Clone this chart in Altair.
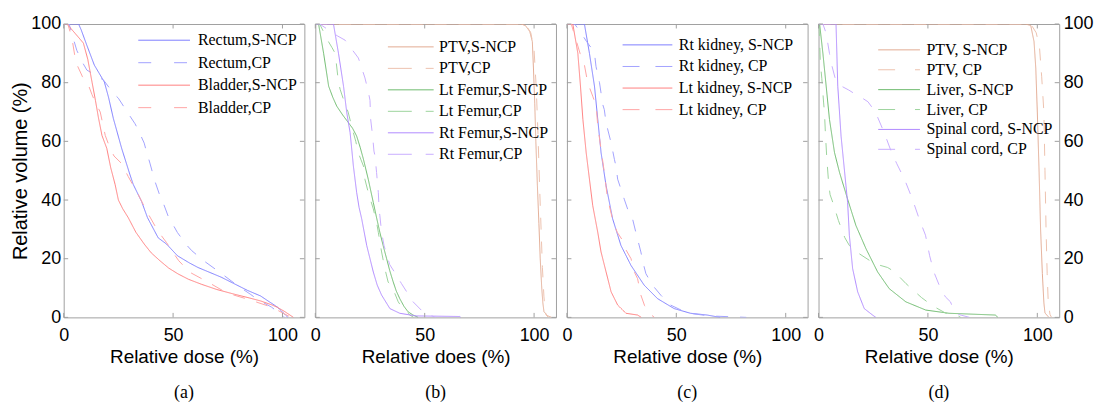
import altair as alt
import pandas as pd

# ---------------- data ----------------
# (a) Rectum / Bladder
a_rectum_sncp_dose = [0, 6.8, 8, 10.6, 14, 18.6, 20.5, 22.7, 26.5, 30.3, 31.8, 35.6, 38.3, 43.2, 47, 52, 57.6, 61.4, 72, 84, 90, 93, 97.7, 101.5, 102.5]
a_rectum_sncp_vol = [100, 100, 98, 92.7, 86, 80.2, 75, 67.8, 57.6, 48.6, 45.3, 39.5, 34, 27.1, 25, 21, 18.5, 17, 13.7, 9.2, 7.3, 5.8, 3.5, 0.7, 0]
a_rectum_cp_dose = [0, 2.5, 4, 6, 8.5, 10.6, 18.2, 22.7, 25, 28.8, 32.6, 34, 36.8, 37.4, 39.4, 41.7, 44, 45.5, 47.7, 52, 56.5, 58.6, 64, 72, 79.5, 85.5, 88.6, 95, 101]
a_rectum_cp_vol = [100, 100, 96, 91, 87, 84.3, 80.9, 76.4, 74.7, 70.3, 66, 64, 59.4, 57.7, 52.6, 46.4, 41.4, 39, 34.6, 28.9, 24.4, 22.7, 19.3, 15, 10.8, 7.8, 6.1, 3.5, 0]
a_bladder_sncp_dose = [0, 1.5, 5, 9, 11, 13, 14.5, 15.9, 17.5, 19.7, 21.5, 23.5, 25, 27, 29.5, 33, 36.8, 40, 44, 48, 52.3, 57, 62.9, 70, 78, 85, 90, 95, 97.7, 101, 103, 105]
a_bladder_sncp_vol = [100, 100, 97, 93.5, 88, 80, 74, 68, 62, 57.6, 51, 45.3, 40, 37, 34, 29, 25, 22, 19.3, 16.8, 14.8, 13, 11.3, 9.5, 7.9, 6.6, 5.6, 4.3, 3.4, 2, 1, 0]
a_bladder_cp_dose = [0, 1.9, 3.8, 5.2, 5.9, 8.6, 10.9, 12.9, 14.4, 16.7, 19, 21, 23, 26.4, 29.5, 34, 37.7, 43, 47, 51, 52.6, 57.6, 66, 73, 76, 85, 95, 104]
a_bladder_cp_vol = [100, 100, 95, 88.6, 86.4, 82, 80, 76, 73.4, 70, 62, 58, 55, 52.5, 48, 42, 36.5, 29.5, 25.5, 21, 19.3, 15.4, 12, 9, 8, 6, 3.5, 0]

# (b) PTV / femurs
b_ptv_sncp_dose = [0, 94, 96, 98, 99.2, 99.7, 100.3, 100.8, 101.5, 102.2, 102.8, 103.5, 104, 104.5, 106, 108]
b_ptv_sncp_vol = [100, 100, 99.5, 97.5, 94, 85, 73, 60, 45, 32, 20, 10, 5, 2, 0.6, 0]
b_ptv_cp_dose = [0, 96, 98.5, 100, 101, 101.8, 102.5, 103.2, 103.8, 104.5, 105, 105.5, 106.5]
b_ptv_cp_vol = [100, 100, 97, 91, 78, 62, 45, 30, 17, 7, 2.5, 0.8, 0]
b_ltf_sncp_dose = [0, 1.5, 3.8, 6.1, 8, 9.8, 12.5, 15.2, 17, 18.9, 20.5, 22, 24.2, 26.5, 28, 29.5, 31, 32.6, 34, 35.6, 37, 38.6, 40.5, 42.4, 44.7, 47]
b_ltf_sncp_vol = [100, 100, 90, 78.8, 75, 72, 69, 66.3, 64.5, 61.8, 58, 53.9, 47.1, 39.2, 34, 29, 24.5, 20, 16, 12.1, 9, 6.4, 3.8, 1.9, 0.8, 0]
b_ltf_cp_dose = [0, 2, 4, 6, 7.6, 9.1, 10.6, 11.4, 13, 15, 17, 18.5, 19.7, 22, 22.7, 24.2, 26.5, 28, 28.8, 30.3, 31.8, 33.3, 34.8, 37.9, 40, 41.7, 43.2, 45]
b_ltf_cp_vol = [100, 100, 97, 94, 92, 90, 80, 77.6, 74, 70, 64, 60, 56, 51.6, 47, 42.6, 37, 32.4, 29, 22.3, 16.6, 12, 11, 5.3, 3, 1.9, 0.8, 0]
b_rtf_sncp_dose = [0, 8.3, 10.6, 12.9, 14.4, 15.9, 16.7, 17.4, 18.9, 20, 21.2, 23.5, 25, 26.5, 28.3, 30.3, 34.1, 38.6, 46, 66, 66.5]
b_rtf_sncp_vol = [100, 100, 90, 78.8, 69.7, 63, 57, 51.6, 42.6, 37.5, 33.6, 24.5, 20, 15.5, 11, 7.6, 3, 1.4, 0.5, 0.3, 0]
b_rtf_cp_dose = [0, 2, 4, 7, 10, 13.6, 15.2, 19.7, 22.7, 24.2, 25, 25.3, 26.2, 26.8, 27.3, 28, 28.8, 29.2, 29.5, 30.3, 31.4, 34, 37, 39.4, 44.7, 49.2, 52.3, 55]
b_rtf_cp_vol = [100, 100, 99, 97.5, 96, 94.5, 92.9, 88.4, 81.6, 77, 74, 67.5, 61.8, 56.7, 55, 49.4, 42.6, 36.4, 34.7, 29, 24.5, 18, 14.5, 11.5, 5.3, 1.9, 0.8, 0]

# (c) kidneys
c_rtk_sncp_dose = [0, 8, 10.3, 12.6, 14.1, 15.6, 17.9, 20.9, 24.7, 29.3, 35.3, 41.4, 49, 56.5, 64.1, 70]
c_rtk_sncp_vol = [100, 100, 90, 78.8, 67.5, 56.2, 44.9, 33.6, 24.5, 17.7, 11, 6.4, 3, 1.4, 0.8, 0]
c_rtk_cp_dose = [0, 3.5, 6, 9, 11, 12.6, 13.3, 14.9, 16.4, 17.1, 17.9, 20.2, 21.7, 22.4, 23.2, 26.2, 28.5, 30, 31.5, 33.8, 35.3, 36.1, 39.1, 43, 47.4, 55, 65, 82]
c_rtk_cp_vol = [100, 100, 97.5, 94, 92, 90, 85.5, 80, 72.5, 70.8, 66.3, 59.5, 53.9, 51.6, 47.1, 40.3, 35.3, 33.6, 29, 22.3, 17.2, 14.9, 11, 7.5, 4.2, 1.5, 0.5, 0]
c_ltk_sncp_dose = [0, 2.7, 5, 6.2, 7.3, 8.8, 10.3, 11.8, 14.1, 15.6, 17.9, 20.2, 23.2, 27, 32.3, 34]
c_ltk_sncp_vol = [100, 100, 90, 78.8, 67.5, 56.2, 47.1, 38.1, 29, 22.3, 15.5, 8.7, 4.2, 1.4, 0.8, 0]
c_ltk_cp_dose = [0, 2, 4, 6, 8, 9.5, 11.8, 13.4, 14.1, 15.6, 17, 18.6, 19.4, 21, 23, 25.5, 27, 29.3, 30.8, 32.3, 33.8, 35.5, 37.6, 40]
c_ltk_cp_vol = [100, 100, 95, 90, 86, 80, 75.4, 72, 65.2, 57.3, 50, 40.3, 38, 33, 29, 26.2, 23, 20, 15.5, 13.2, 7.6, 4, 1.4, 0]

# (d) PTV / liver / spinal cord
d_ptv_sncp_dose = [0, 94.5, 97, 98.5, 99.3, 100, 100.8, 101.5, 102.3, 103, 103.5, 105.3]
d_ptv_sncp_vol = [100, 100, 99.5, 94, 85, 70, 50, 30, 15, 5, 1.5, 0]
d_ptv_cp_dose = [0, 97, 99.5, 101, 102, 103, 103.5, 104, 104.5, 105, 105.8, 106.5]
d_ptv_cp_vol = [100, 100, 97, 92, 82, 70, 50, 30, 15, 5, 1, 0]
d_liver_sncp_dose = [0, 0.5, 2, 3.5, 5, 7.3, 9.6, 13.3, 17.1, 21.7, 27, 32.3, 39.9, 49, 59.6, 80.8, 82]
d_liver_sncp_vol = [100, 100, 90, 78.8, 67.5, 56.2, 49.4, 40.3, 31.3, 23.4, 15.5, 9.8, 5.3, 2.5, 1.4, 0.8, 0]
d_liver_cp_dose = [0, 0.5, 0.8, 1.5, 2.3, 2.7, 3.2, 3.8, 4.7, 5.3, 6.8, 9.1, 12, 14.1, 18, 25.6, 31.6, 34.8, 40, 47, 52, 58, 62.6, 65]
d_liver_cp_vol = [100, 95, 87, 81.5, 73.4, 70, 62, 54, 45, 41.8, 38.6, 33, 27.2, 24.5, 22, 18.3, 17, 15.5, 11.5, 6.8, 4, 1.5, 1, 0]
d_cord_sncp_dose = [0, 8, 8.8, 10.3, 11.8, 13.3, 14.1, 15.6, 17.9, 20.9, 24.7, 26.2]
d_cord_sncp_vol = [100, 100, 78.8, 61.8, 50.5, 39.2, 27.9, 16.6, 8.7, 3, 0.8, 0]
d_cord_cp_dose = [0, 2, 3.5, 5, 5.8, 7.6, 10, 13.8, 17, 20.3, 22.6, 26, 30, 33, 35.7, 39.4, 42.9, 43.7, 46, 48.9, 50.8, 52.7, 55.8, 58, 60.3, 61.8, 64, 69]
d_cord_cp_vol = [100, 100, 96.8, 90, 86.7, 81.5, 79, 77.5, 76, 74.6, 73.5, 70, 63, 57, 52.5, 46.9, 40.3, 38.6, 33.6, 28, 21, 15.5, 9.8, 7, 5.3, 2.5, 1, 0]

x_ticks = [0, 50, 100]
y_ticks = [0, 20, 40, 60, 80, 100]

# ---------------- styles ----------------
# (solid colour, dashed colour)
BLUE = ("#7e7eff", "#a2a2ff")
RED = ("#ff8080", "#ffa4a4")
ORANGE = ("#e2aa92", "#edc2ae")
GREEN = ("#6eba6e", "#9cd49c")
PURPLE = ("#b08aff", "#c9adff")
FRAME = "#a0a0a0"
W, H = 242, 295
SANS, SERIF = "Liberation Sans", "Liberation Serif"

panels = [
    dict(sub="(a)", xtitle="Relative dose (%)", yorient="left",
         series=[("Rectum,S-NCP", a_rectum_sncp_dose, a_rectum_sncp_vol, BLUE, "solid"),
                 ("Rectum,CP", a_rectum_cp_dose, a_rectum_cp_vol, BLUE, "dashed"),
                 ("Bladder,S-NCP", a_bladder_sncp_dose, a_bladder_sncp_vol, RED, "solid"),
                 ("Bladder,CP", a_bladder_cp_dose, a_bladder_cp_vol, RED, "dashed")],
         leg=dict(y0=16.3, dy=22.6, x1=75, x2=127, xt=135, dash=[13, 23])),
    dict(sub="(b)", xtitle="Relative does (%)", yorient=None,
         series=[("PTV,S-NCP", b_ptv_sncp_dose, b_ptv_sncp_vol, ORANGE, "solid"),
                 ("PTV,CP", b_ptv_cp_dose, b_ptv_cp_vol, ORANGE, "dashed"),
                 ("Lt Femur,S-NCP", b_ltf_sncp_dose, b_ltf_sncp_vol, GREEN, "solid"),
                 ("Lt Femur,CP", b_ltf_cp_dose, b_ltf_cp_vol, GREEN, "dashed"),
                 ("Rt Femur,S-NCP", b_rtf_sncp_dose, b_rtf_sncp_vol, PURPLE, "solid"),
                 ("Rt Femur,CP", b_rtf_cp_dose, b_rtf_cp_vol, PURPLE, "dashed")],
         leg=dict(y0=23, dy=21.6, x1=73, x2=119, xt=124.5, dash=[24, 14])),
    dict(sub="(c)", xtitle="Relative dose (%)", yorient=None,
         series=[("Rt kidney, S-NCP", c_rtk_sncp_dose, c_rtk_sncp_vol, BLUE, "solid"),
                 ("Rt kidney, CP", c_rtk_cp_dose, c_rtk_cp_vol, BLUE, "dashed"),
                 ("Lt kidney, S-NCP", c_ltk_sncp_dose, c_ltk_sncp_vol, RED, "solid"),
                 ("Lt kidney, CP", c_ltk_cp_dose, c_ltk_cp_vol, RED, "dashed")],
         leg=dict(y0=21, dy=21.7, x1=56, x2=106, xt=112.5, dash=[17, 16])),
    dict(sub="(d)", xtitle="Relative dose (%)", yorient="right",
         series=[("PTV, S-NCP", d_ptv_sncp_dose, d_ptv_sncp_vol, ORANGE, "solid"),
                 ("PTV, CP", d_ptv_cp_dose, d_ptv_cp_vol, ORANGE, "dashed"),
                 ("Liver, S-NCP", d_liver_sncp_dose, d_liver_sncp_vol, GREEN, "solid"),
                 ("Liver, CP", d_liver_cp_dose, d_liver_cp_vol, GREEN, "dashed"),
                 ("Spinal cord, S-NCP", d_cord_sncp_dose, d_cord_sncp_vol, PURPLE, "solid"),
                 ("Spinal cord, CP", d_cord_cp_dose, d_cord_cp_vol, PURPLE, "dashed")],
         leg=dict(y0=26, dy=20, x1=60, x2=102, xt=108.5, dash=[17, 20])),
]

xs = alt.Scale(domain=[0, 110], nice=False, zero=False)
ys = alt.Scale(domain=[0, 100], nice=False)
dash_scale = alt.Scale(domain=["solid", "dashed"], range=[[1, 0], [12, 12]])


def make_panel(p):
    xaxis = alt.Axis(values=x_ticks, title=p["xtitle"], grid=False, ticks=False, domain=False,
                     labelFlush=False, labelOverlap=False, labelFont=SANS, labelFontSize=18,
                     labelColor="black", labelPadding=9, titleFont=SANS, titleFontSize=19,
                     titleFontWeight="normal", titleColor="black", titlePadding=3, format="d")
    if p["yorient"] == "left":
        yaxis = alt.Axis(values=y_ticks, orient="left", title="Relative volume (%)", grid=False,
                         ticks=False, domain=False, labelFont=SANS, labelFontSize=18,
                         labelColor="black", labelPadding=3, titleFont=SANS, titleFontSize=20,
                         titleFontWeight="normal", titleColor="black", titlePadding=0, format="d")
    elif p["yorient"] == "right":
        yaxis = alt.Axis(values=y_ticks, orient="right", title=None, grid=False, ticks=False,
                         domain=False, labelFont=SANS, labelFontSize=18, labelColor="black",
                         labelPadding=4, format="d")
    else:
        yaxis = None

    rows = []
    for label, dose, vol, cols, kind in p["series"]:
        col = cols[0] if kind == "solid" else cols[1]
        for i, (d, v) in enumerate(zip(dose, vol)):
            rows.append(dict(series=label, kind=kind, col=col, idx=i, dose=d, vol=v))
    df = pd.DataFrame(rows)

    lines = alt.Chart(df).mark_line(strokeWidth=1.0, clip=True).encode(
        x=alt.X("dose:Q", scale=xs, axis=xaxis),
        y=alt.Y("vol:Q", scale=ys, axis=yaxis),
        color=alt.Color("col:N", scale=None, legend=None),
        strokeDash=alt.StrokeDash("kind:N", scale=dash_scale, legend=None),
        detail="series:N",
        order=alt.Order("idx:Q"),
    )

    xt = pd.DataFrame({"t": x_ticks})
    yt = pd.DataFrame({"t": y_ticks})
    TL = 4.5
    tb = alt.Chart(xt).mark_rule(color=FRAME).encode(
        x=alt.X("t:Q", scale=xs, axis=xaxis), y=alt.value(H), y2=alt.value(H - TL))
    tt = alt.Chart(xt).mark_rule(color=FRAME).encode(
        x=alt.X("t:Q", scale=xs, axis=xaxis), y=alt.value(0), y2=alt.value(TL))
    tl = alt.Chart(yt).mark_rule(color=FRAME).encode(
        y=alt.Y("t:Q", scale=ys, axis=yaxis), x=alt.value(0), x2=alt.value(TL))
    tr = alt.Chart(yt).mark_rule(color=FRAME).encode(
        y=alt.Y("t:Q", scale=ys, axis=yaxis), x=alt.value(W - TL), x2=alt.value(W))

    lg = p["leg"]
    leg_rows = []
    for i, (label, dose, vol, cols, kind) in enumerate(p["series"]):
        ypix = lg["y0"] + i * lg["dy"]
        col = cols[0] if kind == "solid" else cols[1]
        leg_rows.append(dict(series=label, kind=kind, col=col, lv=100 - ypix / H * 100))
    ldf = pd.DataFrame(leg_rows)
    ls = ldf[ldf.kind == "solid"]
    ld = ldf[ldf.kind == "dashed"]
    leg_solid = alt.Chart(ls).mark_rule(strokeWidth=1.0).encode(
        x=alt.value(lg["x1"]), x2=alt.value(lg["x2"]),
        y=alt.Y("lv:Q", scale=ys, axis=yaxis),
        color=alt.Color("col:N", scale=None, legend=None))
    leg_dash = alt.Chart(ld).mark_rule(strokeWidth=1.0, strokeDash=lg["dash"]).encode(
        x=alt.value(lg["x1"]), x2=alt.value(lg["x2"]),
        y=alt.Y("lv:Q", scale=ys, axis=yaxis),
        color=alt.Color("col:N", scale=None, legend=None))
    leg_text = alt.Chart(ldf).mark_text(align="left", baseline="middle", font=SERIF,
                                        fontSize=16, color="black").encode(
        x=alt.value(lg["xt"]), y=alt.Y("lv:Q", scale=ys, axis=yaxis), text="series:N")

    title = alt.TitleParams(p["sub"], orient="bottom", font=SERIF, fontSize=18,
                            fontWeight="normal", color="black", anchor="middle",
                            frame="group", offset=18)
    return alt.layer(lines, tb, tt, tl, tr, leg_solid, leg_dash, leg_text).properties(
        width=W, height=H, title=title)


chart = alt.hconcat(*[make_panel(p) for p in panels], spacing=11, bounds="flush").resolve_scale(
    strokeDash="independent"
).configure_view(stroke=FRAME, strokeWidth=1).properties(
    padding={"left": 2, "top": 5, "right": 0, "bottom": 0}, background="white")

chart.save("out.html", embed_options={"renderer": "svg", "actions": False})
